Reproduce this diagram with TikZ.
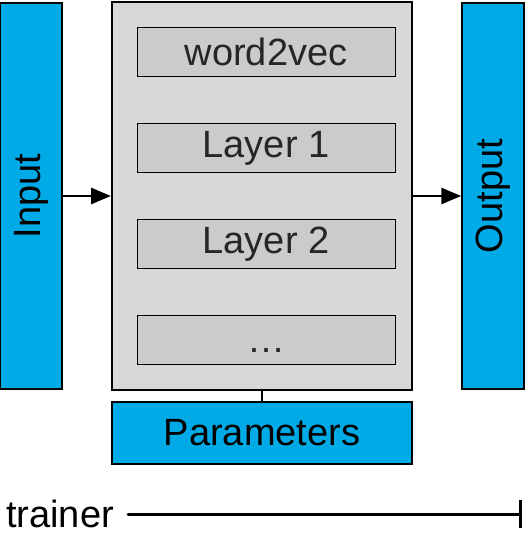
\documentclass[tikz,border=0pt]{standalone}
\usepackage{fontspec}
\setmainfont{Liberation Sans}
\usepackage{tikz}
\usetikzlibrary{arrows.meta,positioning}

\definecolor{netblue}{HTML}{00AAE6}
\definecolor{boxgray}{HTML}{D8D8D8}
\definecolor{layergray}{HTML}{CBCBCB}

\begin{document}
\begin{tikzpicture}[
  x=1pt,
  y=-1pt,
  side/.style={fill=netblue, draw=black, line width=1.5pt, minimum width=62pt, minimum height=386pt, inner sep=0pt},
  net/.style={fill=boxgray, draw=black, line width=2pt, minimum width=300pt, minimum height=387pt, inner sep=0pt},
  layer/.style={fill=layergray, draw=black, line width=1pt, minimum width=258pt, minimum height=49pt, inner sep=0pt, text=black!85},
  label/.style={font=\fontsize{38}{42}\selectfont},
  flow/.style={line width=2.7pt, -{Triangle[length=20pt,width=16pt]}}
]
  \useasboundingbox (0,0) rectangle (524,534);

  \node[side, label] (input) at (31,196) {\rotatebox{90}{Input}};
  \node[net] (net) at (262,196) {};
  \node[side, label] (output) at (493,196) {\rotatebox{90}{Output}};

  \node[layer, label] (w2v) at (266,52) {word2vec};
  \node[layer, label] (layer1) at (266,148) {Layer 1};
  \node[layer, label] (layer2) at (266,244) {Layer 2};
  \node[layer, label] (dots) at (266,340) {\raisebox{-12pt}[0pt][0pt]{\dots}};

  \node[side, label, minimum width=300pt, minimum height=62pt] (params) at (262,433) {Parameters};

  \draw[flow] (input) -- (net);
  \draw[flow] (net) -- (output);
  \draw[line width=1.5pt] (net) -- (params);

  \node[label, anchor=west, inner sep=0pt] (trainer) at (6,514) {trainer};
  \coordinate (trainend) at (522,514);
  \draw[line width=3pt, line cap=round, -{Bar[width=28pt,line width=3pt]}] ([xshift=14pt]trainer.east) -- (trainend);
\end{tikzpicture}
\end{document}
